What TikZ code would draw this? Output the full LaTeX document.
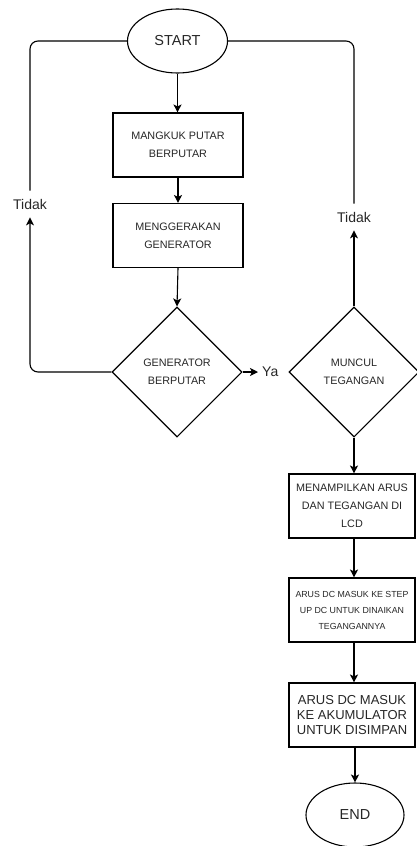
\documentclass[tikz,border=0pt]{standalone}
\usepackage{fontspec}
\setmainfont{Liberation Sans}
\usetikzlibrary{shapes.geometric,arrows.meta}
\begin{document}
\begin{tikzpicture}[x=1pt,y=-1pt,
  ln/.style={line width=1.1pt},
  box/.style={draw, ln, minimum width=130pt, minimum height=64pt, inner sep=0pt, align=center, text=black!85, font=\fontsize{10.8}{18}\selectfont},
  rbox/.style={box, minimum width=126pt},
  term/.style={draw, ln, ellipse, minimum width=100pt, minimum height=64pt, inner sep=0pt, align=center, text=black!85, font=\fontsize{14.5}{17}\selectfont},
  dec/.style={draw, ln, diamond, aspect=1, minimum width=130pt, minimum height=130pt, inner sep=0pt, align=center, text=black!85, font=\fontsize{10.8}{18}\selectfont},
  arr/.style={ln, -{Stealth[length=8pt,width=8pt,inset=2pt]}},
  lbl/.style={text=black!85, font=\fontsize{14}{16}\selectfont, inner xsep=2pt, inner ysep=8pt}]
\useasboundingbox (0,0) rectangle (416,846);
\node[term] (start) at (177.5,41) {START};
\node[box] (b1) at (178,145) {MANGKUK PUTAR\\BERPUTAR};
\node[box] (b2) at (178,235.5) {MENGGERAKAN\\GENERATOR};
\node[dec] (d1) at (177,372) {GENERATOR\\BERPUTAR};
\node[dec] (d2) at (354,372) {MUNCUL\\TEGANGAN};
\node[rbox] (b3) at (352,506) {MENAMPILKAN ARUS\\DAN TEGANGAN DI\\LCD};
\node[rbox, font=\fontsize{8.8}{16}\selectfont] (b4) at (352,610) {ARUS DC MASUK KE STEP\\UP DC UNTUK DINAIKAN\\TEGANGANNYA};
\node[rbox, font=\fontsize{13}{15}\selectfont] (b5) at (352,715) {ARUS DC MASUK\\KE AKUMULATOR\\UNTUK DISIMPAN};
\node[term, minimum width=98pt] (end) at (355,815) {END};
\node[lbl] (tl) at (30,204) {Tidak};
\node[lbl] (tr) at (354,217) {Tidak};
\node[lbl, anchor=west, inner xsep=4pt] (ya) at (258,372) {Ya};
\draw[arr] (start.south) -- (start.south |- b1.north);
\draw[arr] (b1.south) -- (b2.north);
\draw[arr] (b2.south) -- (d1.north);
\draw[arr, rounded corners=8pt] (d1.west) -| (tl.south);
\draw[ln, rounded corners=8pt] (tl.north) |- (start.west);
\draw[arr] (d2.north) -- (tr.south);
\draw[ln, rounded corners=8pt] (tr.north) |- (start.east);
\draw[arr] (d1.east) -- (ya.west);
\draw[arr] (d2.south) -- (d2.south |- b3.north);
\draw[arr] (b3.south -| d2.south) -- (b4.north -| d2.south);
\draw[arr] (b4.south -| d2.south) -- (b5.north -| d2.south);
\draw[arr] (b5.south -| end.north) -- (end.north);
\end{tikzpicture}
\end{document}
